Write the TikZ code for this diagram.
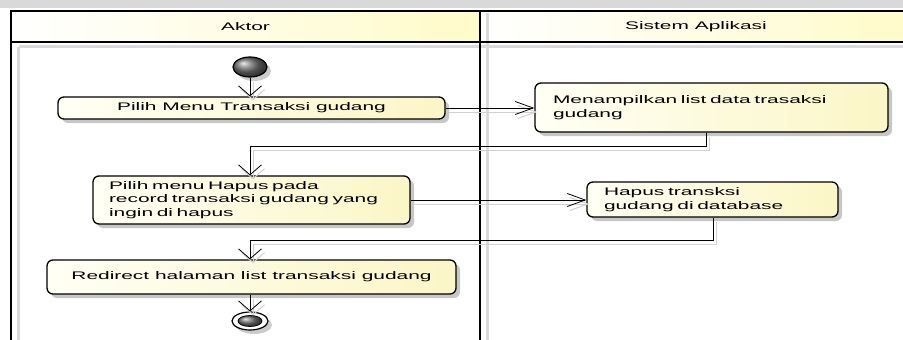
\documentclass[tikz,border=0pt]{standalone}
\usepackage{fontspec}
\setmainfont[FakeStretch=1.9]{Liberation Sans}
\usetikzlibrary{arrows.meta,shapes.geometric,shadows}
\definecolor{boxlight}{HTML}{FFFFF4}
\definecolor{boxyellow}{HTML}{FBF6C6}
\definecolor{headyellow}{HTML}{FFFBC9}
\definecolor{band}{HTML}{D9D9D9}
\definecolor{laneshadow}{HTML}{DADADA}
\begin{document}
\begin{tikzpicture}[x=1pt,y=-1pt,
  font=\fontsize{11}{13.5}\selectfont,
  lane/.style={line width=2pt, black},
  laneshade/.style={line width=2.5pt, laneshadow},
  lanehead/.style={draw=none, inner sep=0pt, left color=white, right color=headyellow},
  action/.style={draw=black, line width=1.3pt, rounded corners=6pt,
    left color=boxlight, right color=boxyellow, inner sep=0pt,
    drop shadow={shadow xshift=4pt, shadow yshift=-4pt, opacity=0.22, fill=black}},
  leftact/.style={action, align=left, inner ysep=0pt},
  flow/.style={line width=0.8pt, black,
    preaction={draw=black!18, line width=1pt, transform canvas={shift={(3pt,-4pt)}}}},
  vtip/.style={-{Straight Barb[length=10pt,width=23pt]}},
  htip/.style={-{Straight Barb[length=18pt,width=13pt]}},
  initial/.style={ellipse, draw=black, line width=1.2pt, inner sep=0pt,
    minimum width=34pt, minimum height=20pt, ball color=black!55,
    drop shadow={shadow xshift=4pt, shadow yshift=-4pt, opacity=0.2, fill=black}},
  final/.style={ellipse, draw=black, line width=1.2pt, fill=white, inner sep=0pt,
    minimum width=36pt, minimum height=18pt,
    drop shadow={shadow xshift=4pt, shadow yshift=-4pt, opacity=0.2, fill=black}},
  finalcore/.style={ellipse, draw=black, line width=0.8pt, inner sep=0pt,
    minimum width=24pt, minimum height=11pt, ball color=black!55}
]
\useasboundingbox (0,0) rectangle (903,340);
\clip (0,0) rectangle (903,340);
\fill[white] (0,0) rectangle (903,340);
\fill[band] (0,0) rectangle (903,7.5);

% swimlane headers
\node[lanehead, minimum width=469pt, minimum height=31pt] (hA) at (245.5,26.5) {Aktor};
\node[lanehead, minimum width=432pt, minimum height=31pt] (hS) at (696,26.5) {Sistem Aplikasi};

% swimlane frame with its soft shadow lines
\draw[laneshade] (18.5,46.5) -- (18.5,345);
\draw[laneshade] (487.5,13) -- (487.5,345);
\draw[laneshade] (18.5,46.5) -- (915,46.5);
\draw[lane] (11,345) -- (11,11) -- (915,11);
\draw[lane] (11,42) -- (915,42);
\draw[lane] (480,11) -- (480,345);

% activities
\node[initial] (start) at (250,67) {};
\node[action, minimum width=387pt, minimum height=22pt] (b1) at (251.5,108)
  {Pilih Menu Transaksi gudang};
\node[leftact, minimum width=353pt, minimum height=49pt, inner xsep=18pt, text width=317pt]
  (b2) at (711.5,107.5) {Menampilkan list data trasaksi\\gudang};
\node[leftact, minimum width=317pt, minimum height=48pt, inner xsep=16pt, text width=285pt]
  (b3) at (251.5,200) {Pilih menu Hapus pada\\record transaksi gudang yang\\ingin di hapus};
\node[leftact, minimum width=251pt, minimum height=35pt, inner xsep=17pt, text width=217pt]
  (b4) at (712.5,199.5) {Hapus transksi\\gudang di database};
\node[action, minimum width=409pt, minimum height=34pt] (b5) at (251.5,277)
  {Redirect halaman list transaksi gudang};
\node[final] (end) at (250,321) {};
\node[finalcore] (endcore) at (250,321) {};

% bends of the return flows
\coordinate (t1) at (706,146);
\coordinate (t2) at (713,240);

% control flows
\draw[flow, vtip] (start.south) -- (start.south |- b1.north);
\draw[flow, htip] (b1.east) -- (b1.east -| b2.west);
\draw[flow, vtip] (t1 |- b2.south) -- (t1) -- (t1 -| start) -- (start |- b3.north);
\draw[flow, htip] (b3.east) -- (b3.east -| b4.west);
\draw[flow, vtip] (t2 |- b4.south) -- (t2) -- (t2 -| start) -- (start |- b5.north);
\draw[flow, vtip] (start |- b5.south) -- (end.north);
\end{tikzpicture}
\end{document}
